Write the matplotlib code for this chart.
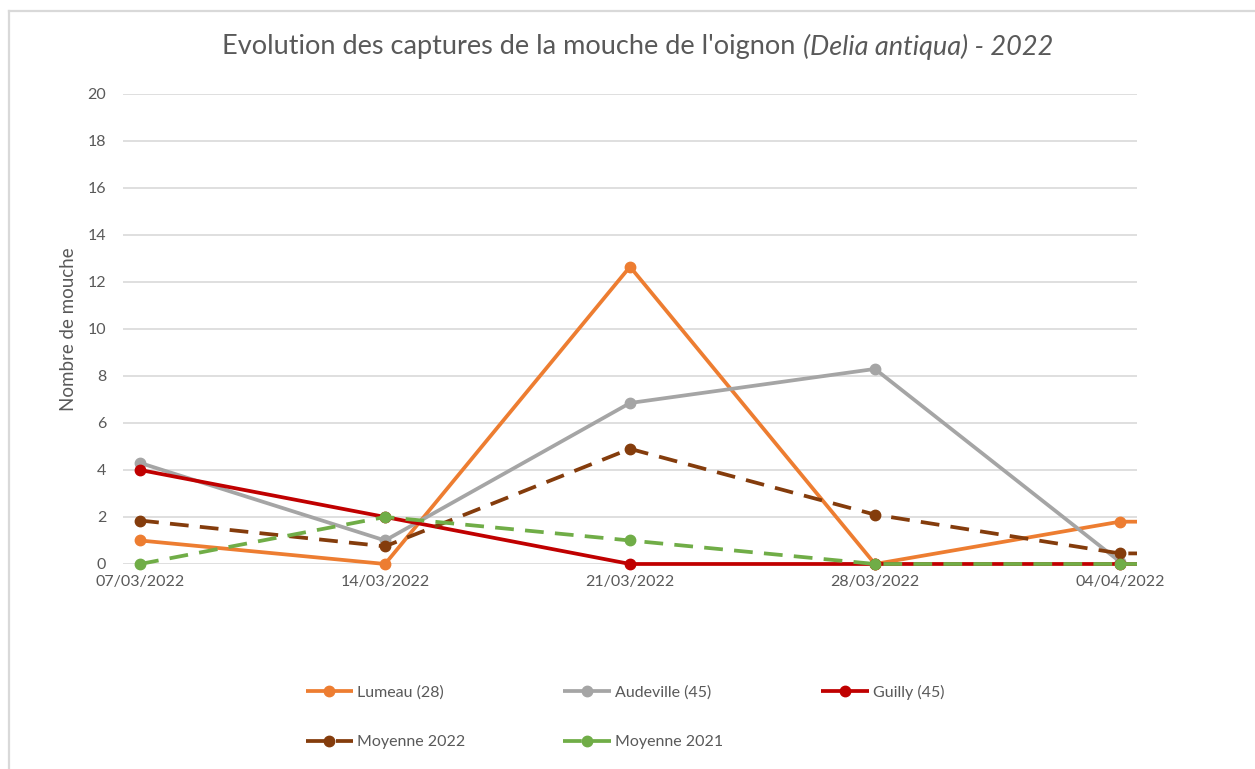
import matplotlib
matplotlib.use("Agg")
import matplotlib.pyplot as plt
import numpy as np
from matplotlib.lines import Line2D
from matplotlib.patches import Rectangle

plt.rcParams["font.family"] = ["Lato", "DejaVu Sans"]

# dates de relevé (la dernière semaine sort de l'axe, Excel la coupe)
dates = ["07/03/2022", "14/03/2022", "21/03/2022", "28/03/2022", "04/04/2022", "11/04/2022"]
n_visible = 5

lumeau = [1.0, 0.0, 12.65, 0.0, 1.8, 1.8]
audeville = [4.3, 1.0, 6.85, 8.3, 0.1, np.nan]
guilly = [4.0, 2.0, 0.0, 0.0, 0.0, 0.0]
moy_2022 = [1.85, 0.75, 4.9, 2.1, 0.45, 0.45]
moy_2021 = [0.0, 2.0, 1.0, 0.0, 0.0, 0.0]

series = [
    ("Lumeau (28)", lumeau, "#ED7D31", "-"),
    ("Audeville (45)", audeville, "#A5A5A5", "-"),
    ("Guilly (45)", guilly, "#C00000", "-"),
    ("Moyenne 2022", moy_2022, "#843C0C", "--"),
    ("Moyenne 2021", moy_2021, "#70AD47", "--"),
]

grey_txt = "#595959"

fig = plt.figure(figsize=(12.55, 7.69), dpi=100)
ax = fig.add_axes([0.098, 0.2666, 0.808, 0.6112])

# clip seulement en x : les points à 0 restent entiers
clip = Rectangle((0, -0.05), 1, 1.1, transform=ax.transAxes, visible=False)
ax.add_patch(clip)

x = np.arange(len(dates))
handles = []
for i, (name, vals, col, ls) in enumerate(series):
    ln, = ax.plot(x, vals, color=col, lw=2.7, ls=ls, marker="o", markersize=7.5,
                  zorder=3 + i, solid_capstyle="butt")
    ln.set_clip_path(clip)
    if ls == "--":
        ln.set_dashes((5, 3))
    ln.set_label(name)
    handles.append(ln)

ax.set_xlim(-0.07, n_visible - 1 + 0.07)
ax.set_ylim(0, 20)
ax.set_yticks(np.arange(0, 21, 2))
ax.set_xticks(x[:n_visible])
ax.set_xticklabels(dates[:n_visible])
ax.tick_params(length=0, colors=grey_txt, labelsize=11.5)
ax.tick_params(axis="x", pad=8)
ax.tick_params(axis="y", pad=12)
ax.grid(axis="y", color="#D9D9D9", lw=1.2)
ax.set_axisbelow(True)
for s in ax.spines.values():
    s.set_visible(False)

ax.set_ylabel("Nombre de mouche", color=grey_txt, fontsize=13.5)
ax.yaxis.set_label_coords((77 - 123) / (0.808 * 1255), 0.5)

# titre : partie droite en italique, l'ensemble centré
t1 = fig.text(0, 0.939, "Evolution des captures de la mouche de l'oignon ",
              ha="left", va="center", fontsize=19.5, color=grey_txt)
t2 = fig.text(0, 0.939, "(Delia antiqua) - 2022", ha="left", va="center",
              fontsize=19.5, color=grey_txt, style="italic")
r = fig.canvas.get_renderer()
w1 = t1.get_window_extent(r).width / 1255
w2 = t2.get_window_extent(r).width / 1255
x0 = 0.508 - (w1 + w2) / 2
t1.set_x(x0)
t2.set_x(x0 + w1)

# légende en 2 lignes, remplie ligne par ligne
order = [0, 3, 1, 4, 2]
leg = fig.legend([handles[k] for k in order], [series[k][0] for k in order],
                 ncol=3, loc="upper left", bbox_to_anchor=(0.232, 0.128),
                 frameon=False, fontsize=11.5, handlelength=3.0, handletextpad=0.25,
                 columnspacing=6.1, labelspacing=2.2, labelcolor=grey_txt)

# bordure du cadre (haut et gauche seulement, capture recadrée)
bc = "#D9D9D9"
fig.add_artist(Line2D([8.5 / 1255, 1], [1 - 10.5 / 769] * 2, color=bc, lw=1.6,
                      transform=fig.transFigure))
fig.add_artist(Line2D([8.5 / 1255] * 2, [0, 1 - 10.5 / 769], color=bc, lw=1.6,
                      transform=fig.transFigure))

fig.savefig("out.png", dpi=100)
